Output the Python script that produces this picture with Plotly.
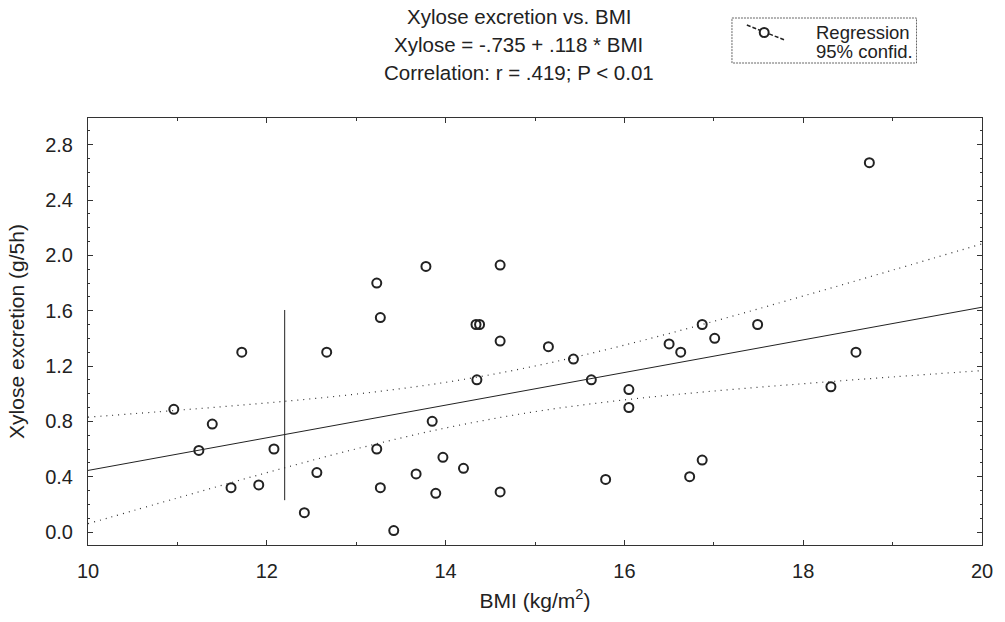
import plotly.graph_objects as go

# ---- data ----
bmi = [10.96, 11.24, 11.39, 11.60, 11.72, 11.91, 12.08, 12.42, 12.56, 12.67,
       13.23, 13.23, 13.27, 13.27, 13.42, 13.67, 13.78, 13.85, 13.89, 13.97,
       14.20, 14.34, 14.38, 14.35, 14.61, 14.61, 14.61, 15.15, 15.43, 15.63,
       15.79, 16.05, 16.05, 16.50, 16.63, 16.73, 16.87, 16.87, 17.01, 17.49,
       18.31, 18.59, 18.74]
xylose = [0.887, 0.59, 0.78, 0.32, 1.30, 0.34, 0.60, 0.14, 0.43, 1.30,
          1.80, 0.60, 1.55, 0.32, 0.01, 0.42, 1.92, 0.80, 0.28, 0.54,
          0.46, 1.50, 1.50, 1.10, 1.93, 1.38, 0.29, 1.34, 1.25, 1.10,
          0.38, 1.03, 0.90, 1.36, 1.30, 0.40, 1.50, 0.52, 1.40, 1.50,
          1.05, 1.30, 2.67]

reg_x = [10, 20]
reg_y = [0.445, 1.625]

ci_x = [10, 11, 12, 13, 14, 15, 16, 17, 18, 19, 20]
ci_upper = [0.83, 0.88, 0.933, 0.997, 1.082, 1.20, 1.351, 1.523, 1.706, 1.893, 2.083]
ci_lower = [0.06, 0.246, 0.429, 0.601, 0.752, 0.87, 0.955, 1.019, 1.072, 1.121, 1.167]

vline_x = [12.2, 12.2]
vline_y = [0.23, 1.605]

title_lines = ["Xylose excretion vs. BMI",
               "Xylose = -.735 + .118 * BMI",
               "Correlation: r = .419; P < 0.01"]
legend_lines = ["Regression", "95% confid."]
x_ticks = [10, 12, 14, 16, 18, 20]
y_ticks = [0.0, 0.4, 0.8, 1.2, 1.6, 2.0, 2.4, 2.8]

FONT = "Liberation Sans, Arial, sans-serif"
INK = "#222222"

fig = go.Figure()
fig.add_trace(go.Scatter(x=ci_x, y=ci_upper, mode="lines",
                         line=dict(color="#333", width=1.2, dash="1px,5px", shape="spline"), hoverinfo="skip"))
fig.add_trace(go.Scatter(x=ci_x, y=ci_lower, mode="lines",
                         line=dict(color="#333", width=1.2, dash="1px,5px", shape="spline"), hoverinfo="skip"))
fig.add_trace(go.Scatter(x=reg_x, y=reg_y, mode="lines", line=dict(color=INK, width=1)))
fig.add_trace(go.Scatter(x=vline_x, y=vline_y, mode="lines", line=dict(color=INK, width=1)))
fig.add_trace(go.Scatter(x=bmi, y=xylose, mode="markers",
                         marker=dict(symbol="circle-open", size=9, color=INK, line=dict(width=2, color=INK))))

L, R, T, B = 88, 16, 118, 77
W, H = 1005, 622
pw, ph = W - L - R, H - T - B

def px(xp):
    return (xp - L) / pw

def py(yp):
    return (H - B - yp) / ph

annotations = []
for txt, yy in zip(title_lines, [17, 44.5, 72.5]):
    annotations.append(dict(text=txt, x=px(522), y=py(yy), xref="paper", yref="paper",
                            xanchor="center", yanchor="middle", showarrow=False,
                            font=dict(family=FONT, size=20.5, color=INK)))
for txt, yy in zip(legend_lines, [32, 51]):
    annotations.append(dict(text=txt, x=px(820), y=py(yy), xref="paper", yref="paper",
                            xanchor="left", yanchor="middle", showarrow=False,
                            font=dict(family=FONT, size=18.5, color=INK)))

shapes = [
    dict(type="rect", xref="paper", yref="paper", x0=px(737), x1=px(923), y0=py(18), y1=py(63),
         line=dict(color="#666", width=1, dash="2px,1px")),
    dict(type="line", xref="paper", yref="paper", x0=px(752), x1=px(790), y0=py(25), y1=py(40),
         line=dict(color=INK, width=1.5, dash="4px,2px")),
    dict(type="circle", xref="paper", yref="paper", x0=px(765), x1=px(774), y0=py(28), y1=py(37),
         line=dict(color=INK, width=2), fillcolor="white"),
]

fig.update_layout(
    width=W, height=H,
    margin=dict(l=L, r=R, t=T, b=B),
    paper_bgcolor="white", plot_bgcolor="white",
    showlegend=False,
    font=dict(family=FONT, size=20, color=INK),
    annotations=annotations, shapes=shapes,
    xaxis=dict(range=[10, 20], tickvals=x_ticks, ticktext=[str(v) for v in x_ticks],
               ticks="inside", ticklen=5, tickcolor="#333", showgrid=False, zeroline=False,
               showline=True, linecolor="#333", linewidth=1, mirror="ticks",
               minor=dict(dtick=1, ticks="inside", ticklen=3, tickcolor="#333"),
               ticklabelstandoff=8, tickfont=dict(size=20),
               title=dict(text="BMI (kg/m<sup>2</sup>)", standoff=12, font=dict(size=21))),
    yaxis=dict(range=[-0.094, 2.993], tickvals=y_ticks, ticktext=[f"{v:.1f}" for v in y_ticks],
               ticks="inside", ticklen=5, tickcolor="#333", showgrid=False, zeroline=False,
               showline=True, linecolor="#333", linewidth=1, mirror="ticks",
               minor=dict(dtick=0.1, tick0=0, ticks="inside", ticklen=2, tickcolor="#333"),
               ticklabelstandoff=10, tickfont=dict(size=20),
               title=dict(text="Xylose excretion (g/5h)", standoff=14, font=dict(size=21))),
)

fig.write_html("out.html")
